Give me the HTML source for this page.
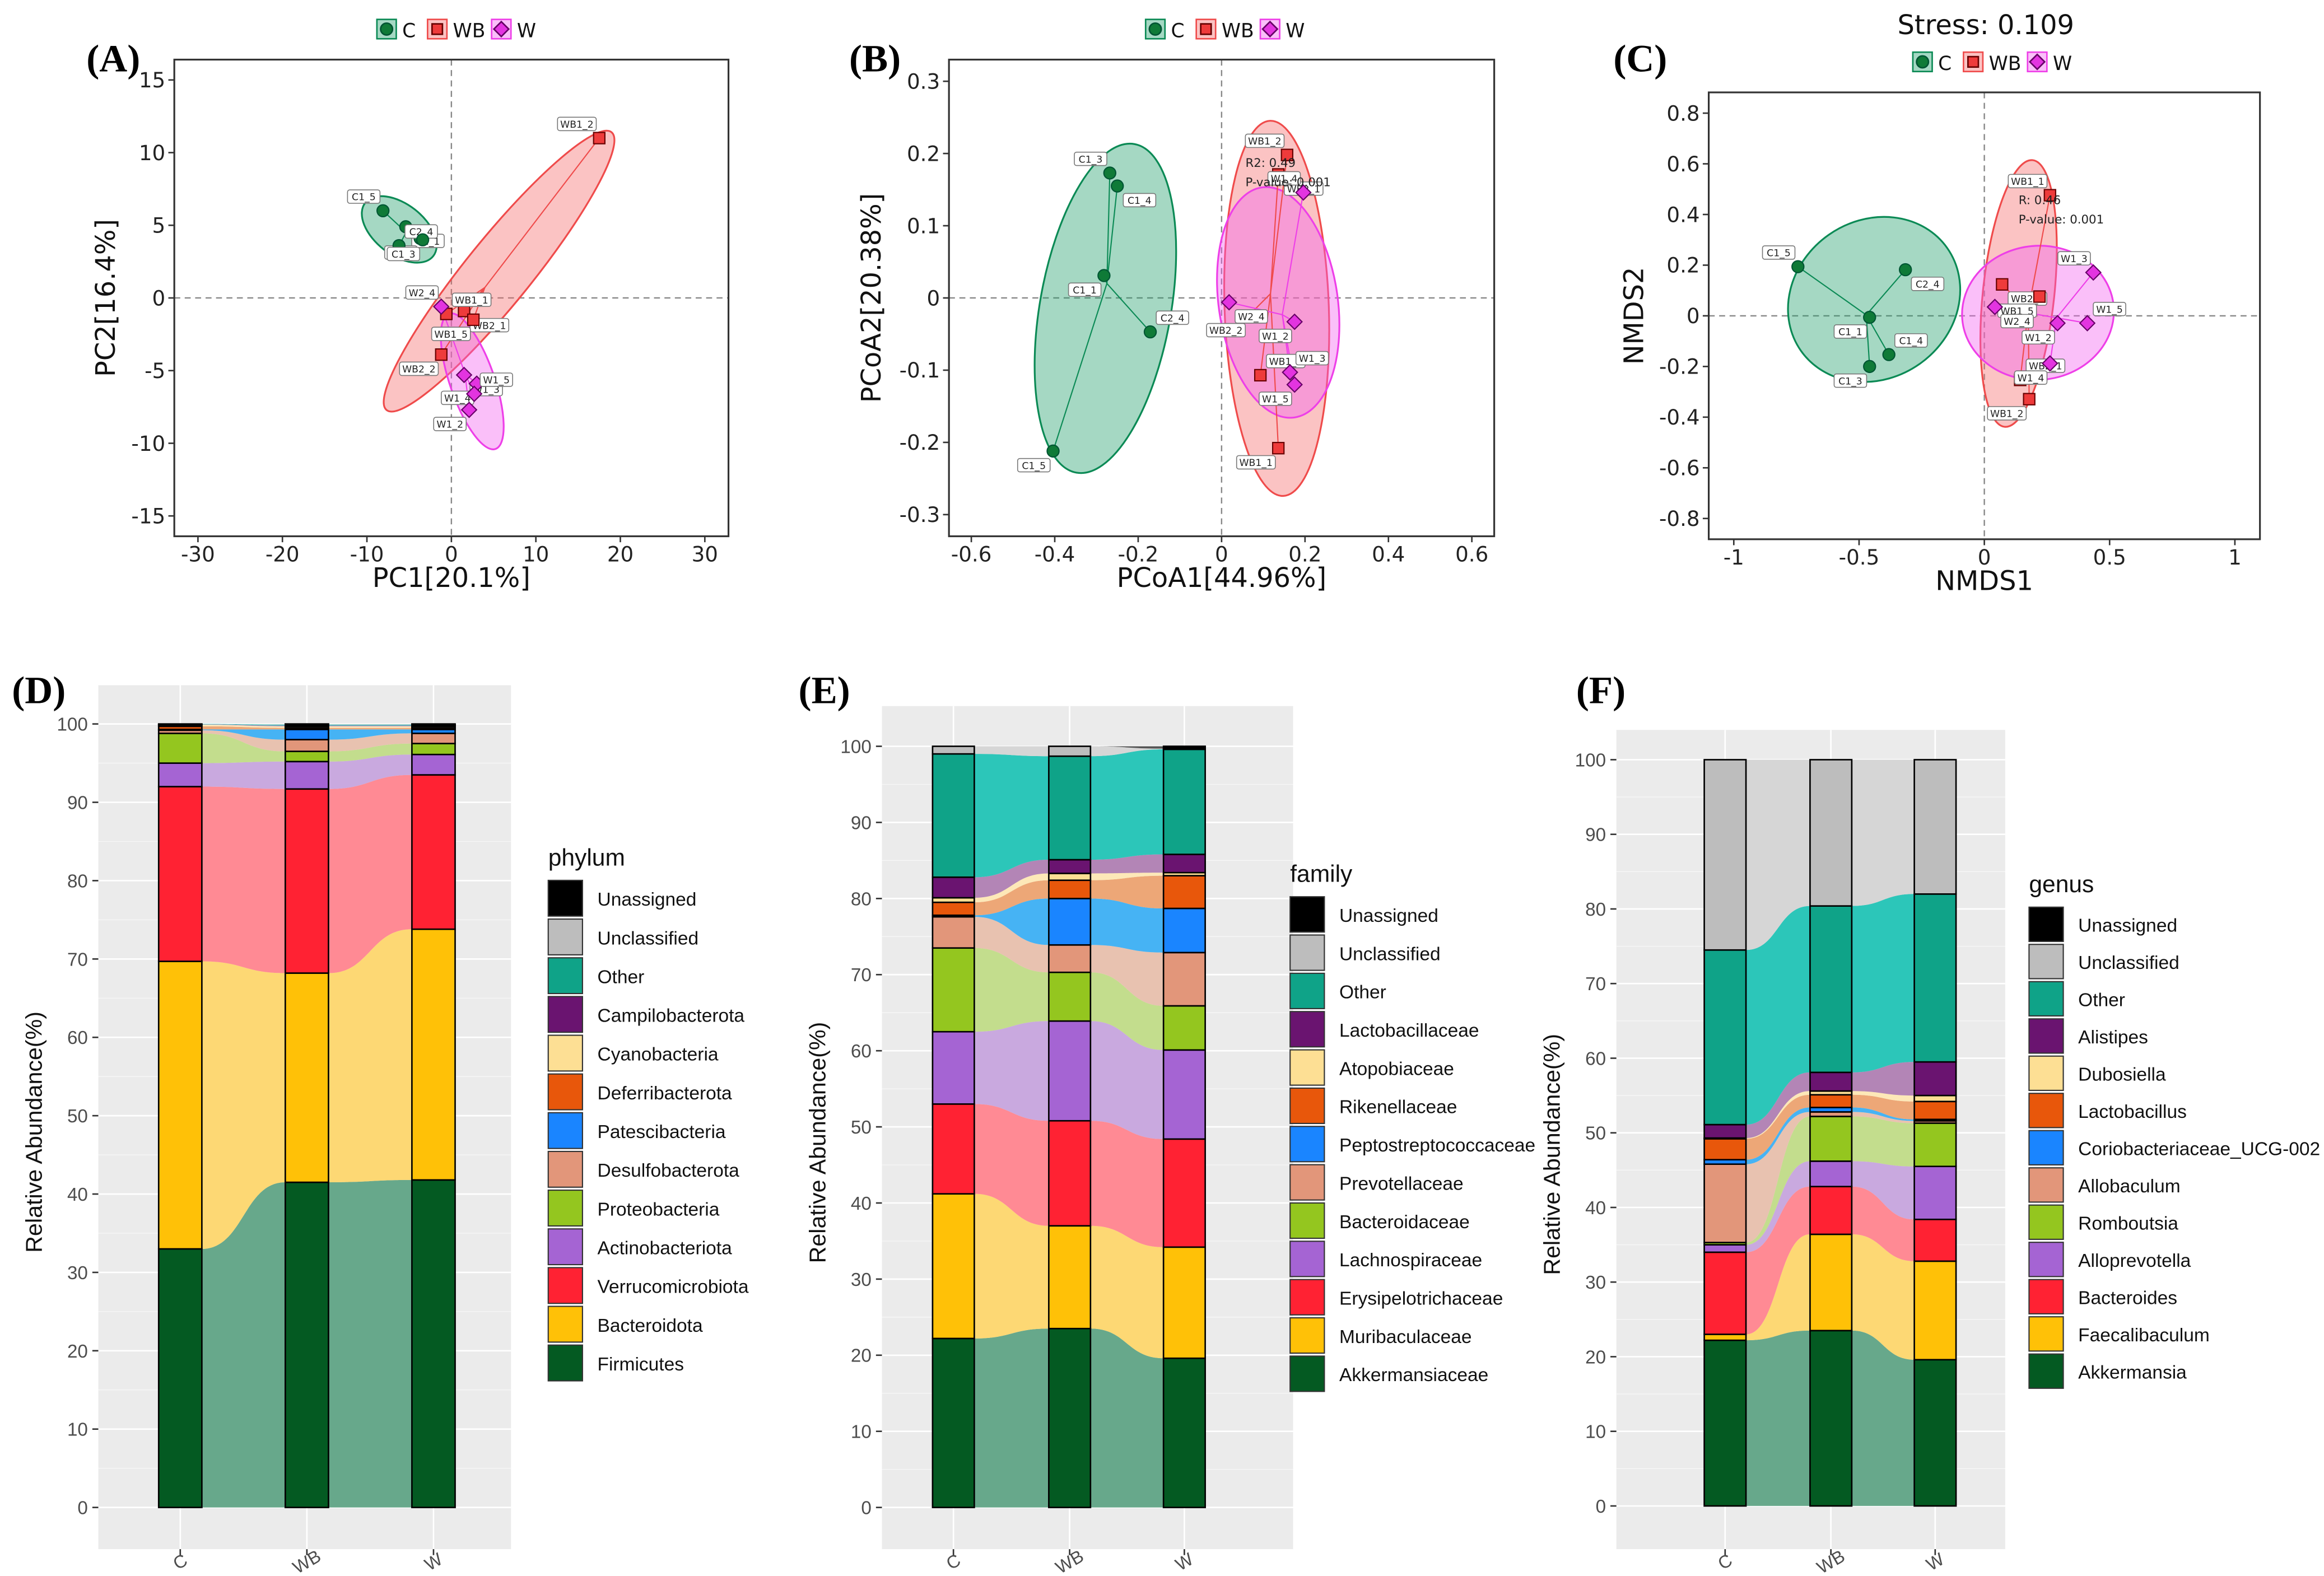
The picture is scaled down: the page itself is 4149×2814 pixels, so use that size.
<!DOCTYPE html>
<html><head><meta charset="utf-8"><title>Microbiome figure</title>
<style>
html,body{margin:0;padding:0;background:#fff}
svg{display:block}
text{font-family:"DejaVu Sans","Liberation Sans",sans-serif}
.lab{font-family:"Liberation Serif",serif;font-weight:bold}
.ggt{font-family:"Liberation Sans",sans-serif}
</style></head>
<body>
<svg id="fig" xmlns="http://www.w3.org/2000/svg" width="4149" height="2814" viewBox="0 0 1560 1058">
<rect width="1560" height="1058" fill="#fff"/>
</svg>
<script>
// ---------------- DATA ----------------
const groups = ["C","WB","W"];
// Panel A (PCA)
const aNames = {C:["C1_5","C1_1","C1_4","C2_4","C1_3"],WB:["WB1_2","WB2_1","WB1_5","WB1_1","WB2_2"],W:["W2_4","W1_3","W1_4","W1_5","W1_2"]};
const aX = {C:[-8.1,-5.4,-3.7,-6.2,-3.4],WB:[17.5,1.5,2.6,-0.6,-1.2],W:[-1.2,1.5,3.0,2.7,2.1]};
const aY = {C:[6.0,4.9,4.1,3.6,4.0],WB:[11.0,-0.9,-1.5,-1.1,-3.9],W:[-0.6,-5.3,-5.9,-6.6,-7.7]};
// Panel B (PCoA)
const bNames = {C:["C1_3","C1_4","C1_1","C2_4","C1_5"],WB:["WB1_2","WB2_1","WB2_2","WB1_5","WB1_1"],W:["W1_4","W2_4","W1_2","W1_3","W1_5"]};
const bX = {C:[-0.268,-0.25,-0.282,-0.171,-0.404],WB:[0.157,0.136,0.064,0.093,0.136],W:[0.196,0.018,0.175,0.164,0.175]};
const bY = {C:[0.173,0.155,0.031,-0.047,-0.212],WB:[0.198,0.171,-0.025,-0.107,-0.208],W:[0.146,-0.006,-0.033,-0.103,-0.12]};
// Panel C (NMDS)
const cNames = {C:["C1_5","C2_4","C1_1","C1_4","C1_3"],WB:["WB1_1","WB2_2","WB1_5","WB2_1","WB1_2"],W:["W1_3","W2_4","W1_2","W1_5","W1_4"]};
const cX = {C:[-0.744,-0.315,-0.458,-0.381,-0.458],WB:[0.262,0.071,0.22,0.143,0.179],W:[0.435,0.042,0.292,0.411,0.262]};
const cY = {C:[0.194,0.182,-0.006,-0.153,-0.2],WB:[0.476,0.124,0.076,-0.253,-0.329],W:[0.171,0.035,-0.029,-0.029,-0.188]};
// Panel D phylum (bottom to top)
const phyla = ["Firmicutes","Bacteroidota","Verrucomicrobiota","Actinobacteriota","Proteobacteria","Desulfobacterota","Patescibacteria","Deferribacterota","Cyanobacteria","Campilobacterota","Other","Unclassified","Unassigned"];
const phylumC  = [33.0,36.7,22.3,3.0,3.8,0.4,0.1,0.4,0.2,0.05,0.05,0.0,0.0];
const phylumWB = [41.5,26.7,23.5,3.5,1.3,1.5,1.3,0.2,0.2,0.1,0.1,0.1,0.0];
const phylumW  = [41.8,32.0,19.7,2.6,1.4,1.3,0.5,0.2,0.2,0.1,0.1,0.1,0.0];
// Panel E family
const families = ["Akkermansiaceae","Muribaculaceae","Erysipelotrichaceae","Lachnospiraceae","Bacteroidaceae","Prevotellaceae","Peptostreptococcaceae","Rikenellaceae","Atopobiaceae","Lactobacillaceae","Other","Unclassified","Unassigned"];
const familyC  = [22.2,19.0,11.8,9.5,11.0,4.1,0.2,1.7,0.6,2.7,16.2,1.0,0.0];
const familyWB = [23.5,13.5,13.8,13.1,6.4,3.6,6.1,2.4,0.9,1.8,13.6,1.3,0.0];
const familyW  = [19.6,14.6,14.2,11.7,5.8,7.0,5.8,4.3,0.4,2.4,13.8,0.1,0.3];
// Panel F genus
const genera = ["Akkermansia","Faecalibaculum","Bacteroides","Alloprevotella","Romboutsia","Allobaculum","Coriobacteriaceae_UCG-002","Lactobacillus","Dubosiella","Alistipes","Other","Unclassified","Unassigned"];
const genusC  = [22.2,0.8,11.0,1.0,0.3,10.5,0.6,2.8,0.1,1.8,23.4,25.5,0.0];
const genusWB = [23.5,12.9,6.4,3.4,6.0,0.6,0.6,1.7,0.5,2.5,22.3,19.6,0.0];
const genusW  = [19.6,13.2,5.6,7.1,5.8,0.3,0.2,2.4,0.8,4.5,22.5,18.0,0.0];
const yTicks = [0,10,20,30,40,50,60,70,80,90,100];

// ---------------- HELPERS ----------------
const NS="http://www.w3.org/2000/svg";
const svg=document.getElementById('fig');
function el(tag,attrs,parent,txt){const e=document.createElementNS(NS,tag);for(const k in attrs)e.setAttribute(k,attrs[k]);if(txt!==undefined)e.textContent=txt;(parent||svg).appendChild(e);return e;}
function grp(name,parent){const g=el('g',{},parent);return g;}
const stackColors=["#045a22","#ffc107","#ff2233","#a564d3","#94c61f","#e2967a","#1a85ff","#e8570b","#fddf94","#6a1470","#0fa388","#bdbdbd","#000000"];
const flowColors=["#67a88b","#fdd874","#ff8a94","#c9a9df","#c3dd8d","#e8c2b0","#46b3f4","#eda777","#fde8b8","#b385b6","#2cc6b9","#d6d6d6","#555555"];
const grpFill={C:"#1d9e6a",WB:"#f66a6a",W:"#f35ef0"};
const grpStroke={C:"#0b8a55",WB:"#ef4b4b",W:"#ee3fe8"};
const ptFill={C:"#0f7a37",WB:"#ee3b3b",W:"#e334e0"};

function scatterPanel(cfg){
  const g=grp(cfg.name);
  const sx=v=>cfg.x0+(v-cfg.xmin)*(cfg.x1-cfg.x0)/(cfg.xmax-cfg.xmin);
  const sy=v=>cfg.y1-(v-cfg.ymin)*(cfg.y1-cfg.y0)/(cfg.ymax-cfg.ymin);
  el('line',{x1:sx(0),x2:sx(0),y1:cfg.y0,y2:cfg.y1,stroke:"#888","stroke-dasharray":"4,3","stroke-width":0.9},g);
  el('line',{x1:cfg.x0,x2:cfg.x1,y1:sy(0),y2:sy(0),stroke:"#888","stroke-dasharray":"4,3","stroke-width":0.9},g);
  cfg.ell.forEach(e=>{
    const en=el('ellipse',{cx:e[1],cy:e[2],rx:e[3],ry:e[4],transform:`rotate(${e[5]} ${e[1]} ${e[2]})`,fill:grpFill[e[0]],"fill-opacity":0.4,stroke:grpStroke[e[0]],"stroke-width":1.2},g);
    
    
  });
  groups.forEach(k=>{
    const xs=cfg.X[k],ys=cfg.Y[k];
    const mx=xs.reduce((a,b)=>a+b,0)/xs.length,my=ys.reduce((a,b)=>a+b,0)/ys.length;
    xs.forEach((v,i)=>{const l=el('line',{x1:sx(mx),y1:sy(my),x2:sx(v),y2:sy(ys[i]),stroke:grpStroke[k],"stroke-width":0.8},g);});
  });
  groups.forEach(k=>{
    cfg.X[k].forEach((v,i)=>{
      const px=sx(v),py=sy(cfg.Y[k][i]);let m;
      if(k==="C")m=el('circle',{cx:px,cy:py,r:4,fill:ptFill[k],stroke:"#053","stroke-width":0.8},g);
      else if(k==="WB")m=el('rect',{x:px-3.8,y:py-3.8,width:7.6,height:7.6,fill:ptFill[k],stroke:"#600","stroke-width":0.8},g);
      else m=el('polygon',{points:`${px},${py-5} ${px+5},${py} ${px},${py+5} ${px-5},${py}`,fill:ptFill[k],stroke:"#606","stroke-width":0.8},g);
      
      
      const t=cfg.N[k][i];const w=t.length*4.2+5;const lx=px+(i%2?4:-w-2),ly=py+(i%3===0?-14:5);
      const lb=el('rect',{x:lx,y:ly,width:w,height:9,fill:"#fff",stroke:"#777","stroke-width":0.6,rx:1.5},g);
      
      const tt=el('text',{x:lx+w/2,y:ly+7,"font-size":6.5,"text-anchor":"middle",fill:"#222"},g,t);
      
    });
  });
  const fr=el('rect',{x:cfg.x0,y:cfg.y0,width:cfg.x1-cfg.x0,height:cfg.y1-cfg.y0,fill:"none",stroke:"#333","stroke-width":1.2},g);
  
  cfg.xt.forEach(v=>{el('line',{x1:sx(v),x2:sx(v),y1:cfg.y1,y2:cfg.y1+4,stroke:"#333"},g);const t=el('text',{x:sx(v),y:cfg.y1+17,"font-size":14,"text-anchor":"middle",fill:"#222"},g,cfg.xl(v));});
  cfg.yt.forEach(v=>{el('line',{x1:cfg.x0-4,x2:cfg.x0,y1:sy(v),y2:sy(v),stroke:"#333"},g);const t=el('text',{x:cfg.x0-6,y:sy(v)+5,"font-size":14,"text-anchor":"end",fill:"#222"},g,cfg.yl(v));});
  const xt=el('text',{x:(cfg.x0+cfg.x1)/2,y:cfg.y1+34,"font-size":18,"text-anchor":"middle",fill:"#111"},g,cfg.xTitle);
  const ytx=cfg.x0-(cfg.ytOff||40),yty=(cfg.y0+cfg.y1)/2;
  const yt=el('text',{x:ytx,y:yty,"font-size":18,"text-anchor":"middle",fill:"#111",transform:`rotate(-90 ${ytx} ${yty})`},g,cfg.yTitle);
  const lg=grp('legend',g);let lx=cfg.legX;
  groups.forEach(k=>{
    const bx=el('rect',{x:lx,y:cfg.legY-7,width:13,height:13,fill:grpFill[k],"fill-opacity":0.4,stroke:grpStroke[k]},lg);
    const cx=lx+6.5,cy=cfg.legY-0.5;
    if(k==="C")el('circle',{cx:cx,cy:cy,r:4,fill:ptFill[k],stroke:"#053"},lg);
    else if(k==="WB")el('rect',{x:cx-3.5,y:cy-3.5,width:7,height:7,fill:ptFill[k],stroke:"#600"},lg);
    else el('polygon',{points:`${cx},${cy-5} ${cx+5},${cy} ${cx},${cy+5} ${cx-5},${cy}`,fill:ptFill[k],stroke:"#606"},lg);
    const t=el('text',{x:lx+17,y:cfg.legY+5,"font-size":13,fill:"#111"},lg,k);
    lx+=17+k.length*9+8;
  });
  const pl=el('text',{x:cfg.labX,y:cfg.labY,"font-size":26,class:"lab",fill:"#000"},g,cfg.label);
  (cfg.notes||[]).forEach(n=>{const t=el('text',{x:n[0],y:n[1],"font-size":8,fill:"#222"},g,n[2]);});
}

scatterPanel({name:"panel-a-pca",label:"(A)",labX:58,labY:48,x0:117,x1:489,y0:40,y1:360,xmin:-32.8,xmax:32.8,ymin:-16.4,ymax:16.4,
 X:aX,Y:aY,N:aNames,xt:[-30,-20,-10,0,10,20,30],yt:[-15,-10,-5,0,5,10,15],xl:v=>String(v),yl:v=>String(v),
 xTitle:"PC1[20.1%]",yTitle:"PC2[16.4%]",ytOff:40,legX:253,legY:20,
 ell:[["WB",335,182,120,22,-51],["W",317,256,48,15,71],["C",268,154,29,17,38]]});
scatterPanel({name:"panel-b-pcoa",label:"(B)",labX:570,labY:48,x0:637,x1:1003,y0:40,y1:360,xmin:-0.6536,xmax:0.6536,ymin:-0.33,ymax:0.33,
 X:bX,Y:bY,N:bNames,xt:[-0.6,-0.4,-0.2,0,0.2,0.4,0.6],yt:[-0.3,-0.2,-0.1,0,0.1,0.2,0.3],xl:v=>v===0?"0":String(v),yl:v=>v===0?"0":String(v),
 xTitle:"PCoA1[44.96%]",yTitle:"PCoA2[20.38%]",ytOff:46,legX:769,legY:20,
 ell:[["C",742,207,112,44,-80],["WB",857,207,126,35,88],["W",858,203,78,40,82]],
 notes:[[836,112,"R2: 0.49"],[836,125,"P-value: 0.001"]]});
scatterPanel({name:"panel-c-nmds",label:"(C)",labX:1083,labY:48,x0:1147,x1:1517,y0:62,y1:362,xmin:-1.1,xmax:1.1,ymin:-0.882,ymax:0.882,
 X:cX,Y:cY,N:cNames,xt:[-1,-0.5,0,0.5,1],yt:[-0.8,-0.6,-0.4,-0.2,0,0.2,0.4,0.6,0.8],xl:v=>v===0?"0":String(v),yl:v=>v===0?"0":String(v),
 xTitle:"NMDS1",yTitle:"NMDS2",ytOff:44,legX:1284,legY:42,
 ell:[["C",1258,201,60,53,-35],["WB",1355,197,90,24,-84],["W",1368,210,51,45,-5]],
 notes:[[1355,137,"R: 0.46"],[1355,150,"P-value: 0.001"]]});
{const t=el('text',{x:1333,y:23,"font-size":18,"text-anchor":"middle",fill:"#111"},svg,"Stress: 0.109");}

// ---------------- STACKED BARS ----------------
function barPanel(cfg){
  const g=grp(cfg.name);
  const sy=v=>cfg.yZero-(v/100)*(cfg.yZero-cfg.yHund);
  const bg=el('rect',{x:cfg.px0,y:cfg.py0,width:cfg.px1-cfg.px0,height:cfg.py1-cfg.py0,fill:"#ebebeb"},g);
  yTicks.forEach(v=>{el('line',{x1:cfg.px0,x2:cfg.px1,y1:sy(v),y2:sy(v),stroke:"#fff","stroke-width":1},g);
    if(v<100)el('line',{x1:cfg.px0,x2:cfg.px1,y1:sy(v+5),y2:sy(v+5),stroke:"#f7f7f7","stroke-width":0.5},g);});
  cfg.cx.forEach(x=>el('line',{x1:x,x2:x,y1:cfg.py0,y2:cfg.py1,stroke:"#fff","stroke-width":1},g));
  const series=cfg.vals;const cum=series.map(s=>{let c=0;return s.map(v=>{const a=c;c+=v;return [a,c];});});
  const hw=cfg.bw/2;
  for(let b=0;b<series.length-1;b++){
    const xa=cfg.cx[b]+hw,xb=cfg.cx[b+1]-hw,xm=(xa+xb)/2;
    cfg.cats.forEach((c,i)=>{
      const [a0,a1]=cum[b][i],[b0,b1]=cum[b+1][i];
      if(a1-a0<0.01&&b1-b0<0.01)return;
      const d=`M${xa},${sy(a1)} C${xm},${sy(a1)} ${xm},${sy(b1)} ${xb},${sy(b1)} L${xb},${sy(b0)} C${xm},${sy(b0)} ${xm},${sy(a0)} ${xa},${sy(a0)} Z`;
      const p=el('path',{d:d,fill:flowColors[i]},g);
      
      
    });
  }
  series.forEach((s,b)=>{
    cfg.cats.forEach((c,i)=>{
      const [a0,a1]=cum[b][i];if(a1-a0<0.01)return;
      const r=el('rect',{x:cfg.cx[b]-hw,y:sy(a1),width:cfg.bw,height:sy(a0)-sy(a1),fill:stackColors[i],stroke:"#000","stroke-width":1},g);
      
      
    });
  });
  yTicks.forEach(v=>{el('line',{x1:cfg.px0-4,x2:cfg.px0,y1:sy(v),y2:sy(v),stroke:"#333"},g);
    const t=el('text',{x:cfg.px0-7,y:sy(v)+4.5,"font-size":12.5,"text-anchor":"end",fill:"#4d4d4d",class:"ggt"},g,String(v));});
  groups.forEach((k,b)=>{const x=cfg.cx[b];el('line',{x1:x,x2:x,y1:cfg.py1,y2:cfg.py1+4,stroke:"#333"},g);
    const t=el('text',{x:x+2,y:cfg.py1+12,"font-size":12,"text-anchor":"middle",fill:"#4d4d4d",class:"ggt",transform:`rotate(-30 ${x+2} ${cfg.py1+12})`},g,k);});
  const yx=cfg.px0-38,yy=(cfg.py0+cfg.py1)/2+10;
  const yt=el('text',{x:yx,y:yy,"font-size":15.5,"text-anchor":"middle",fill:"#111",class:"ggt",transform:`rotate(-90 ${yx} ${yy})`},g,"Relative Abundance(%)");
  const pl=el('text',{x:cfg.labX,y:cfg.labY,"font-size":26,class:"lab",fill:"#000"},g,cfg.label);
  const lg=grp('legend',g);
  const lt=el('text',{x:cfg.lx,y:cfg.ly,"font-size":16,fill:"#111",class:"ggt"},lg,cfg.legTitle);
  for(let j=0;j<cfg.cats.length;j++){
    const i=cfg.cats.length-1-j;const y=cfg.ly+10+j*cfg.ls;
    const r=el('rect',{x:cfg.lx,y:y,width:23,height:cfg.ls-2,fill:stackColors[i],stroke:"#333","stroke-width":0.8},lg);
    
    const t=el('text',{x:cfg.lx+33,y:y+cfg.ls/2+4,"font-size":12.6,fill:"#111",class:"ggt"},lg,cfg.cats[i]);
    
  }
}
barPanel({name:"panel-d-phylum",label:"(D)",labX:8,labY:472,px0:66,px1:343,py0:460,py1:1040,yZero:1012,yHund:486,cx:[121,206,291],bw:29,
 cats:phyla,vals:[phylumC,phylumWB,phylumW],legTitle:"phylum",lx:368,ly:581,ls:26});
barPanel({name:"panel-e-family",label:"(E)",labX:536,labY:472,px0:592,px1:868,py0:474,py1:1040,yZero:1012,yHund:501,cx:[640,718,795],bw:28,
 cats:families,vals:[familyC,familyWB,familyW],legTitle:"family",lx:866,ly:592,ls:25.7});
barPanel({name:"panel-f-genus",label:"(F)",labX:1058,labY:472,px0:1085,px1:1346,py0:490,py1:1040,yZero:1011,yHund:510,cx:[1158,1229,1299],bw:28,
 cats:genera,vals:[genusC,genusWB,genusW],legTitle:"genus",lx:1362,ly:599,ls:25});
</script>
</body></html>
